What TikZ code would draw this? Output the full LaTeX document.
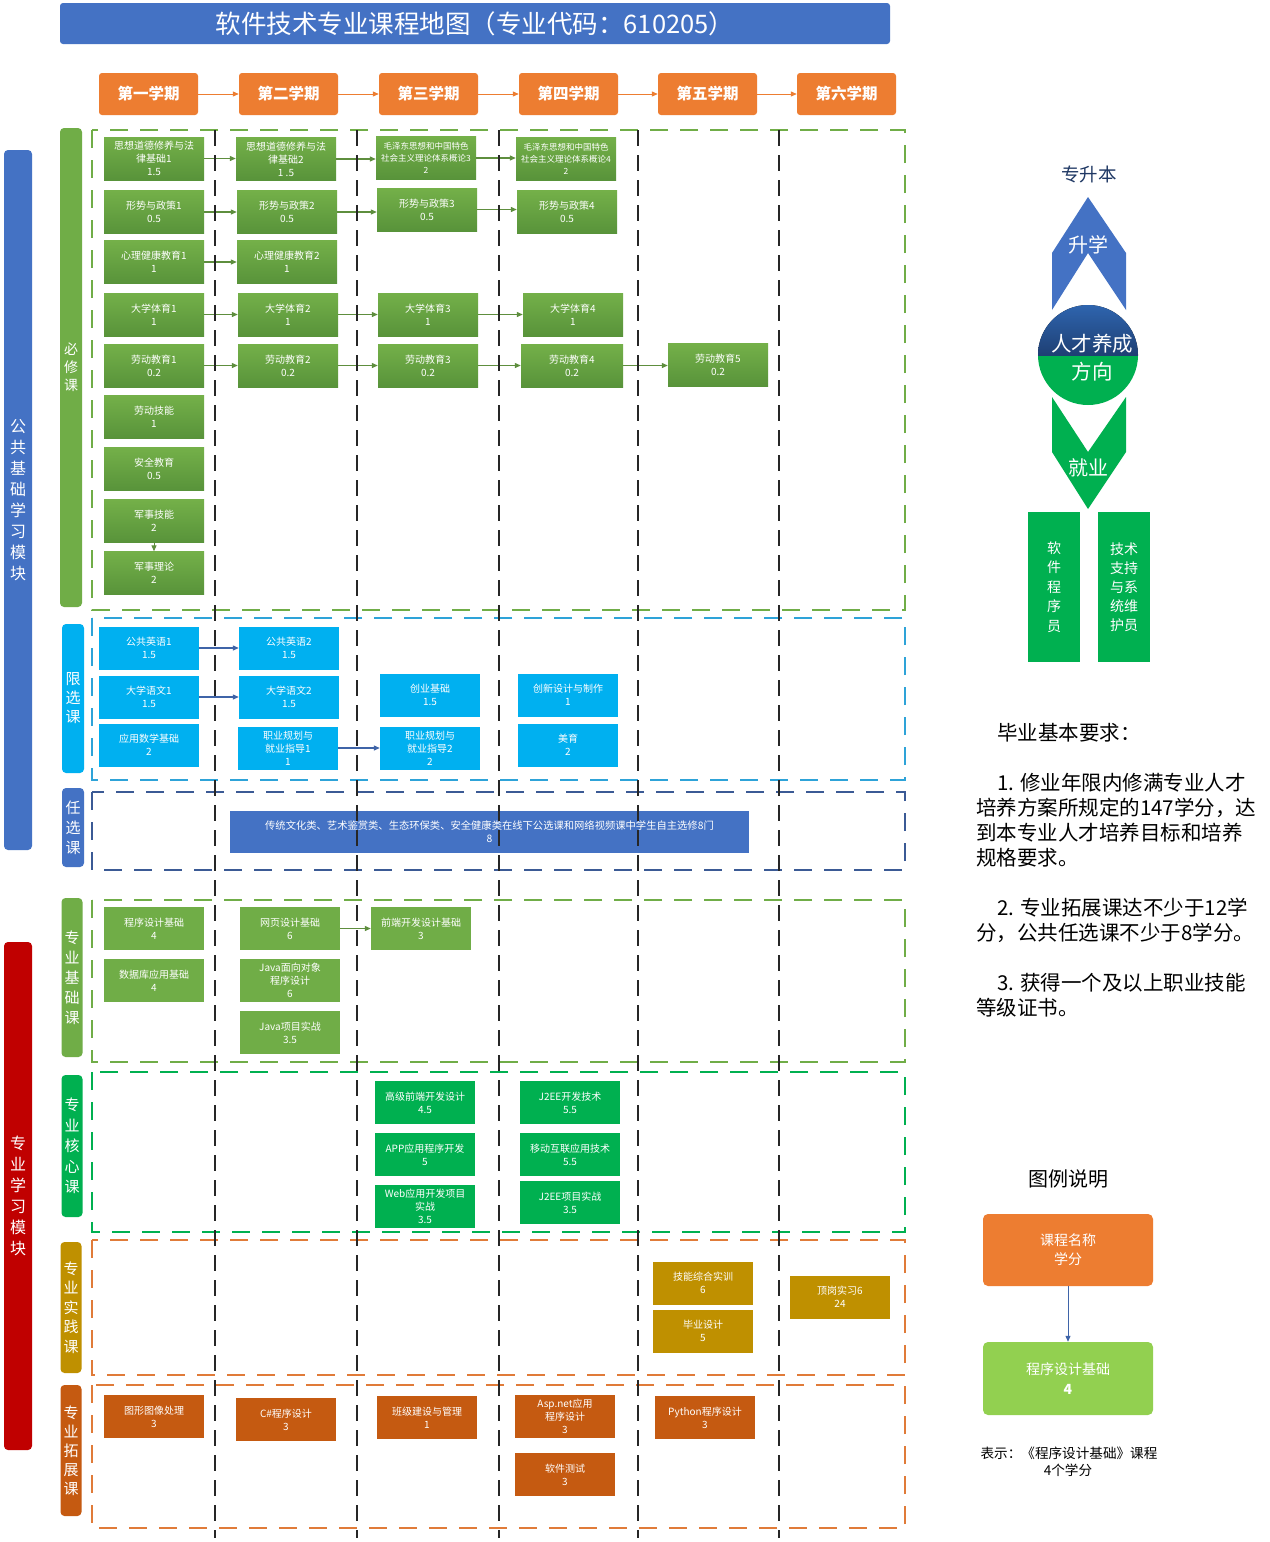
\documentclass[tikz,border=0pt]{standalone}
\usepackage{fontspec}
\setmainfont{Noto Sans CJK SC}
\usetikzlibrary{arrows.meta}
\definecolor{tblue}{HTML}{4472C4}
\definecolor{sorange}{HTML}{ED7D31}
\definecolor{ga}{HTML}{74B049}
\definecolor{gb}{HTML}{58933A}
\definecolor{garrow}{HTML}{5E8E3E}
\definecolor{cy}{HTML}{00B0F0}
\definecolor{cyframe}{HTML}{2EA3D8}
\definecolor{dbframe}{HTML}{3B5A95}
\definecolor{barrow}{HTML}{3F64A8}
\definecolor{pgreen}{HTML}{70AD47}
\definecolor{hgreen}{HTML}{00B050}
\definecolor{gold}{HTML}{BF9000}
\definecolor{rust}{HTML}{C55A11}
\definecolor{oframe}{HTML}{E07B39}
\definecolor{mred}{HTML}{C00000}
\definecolor{lgreen}{HTML}{92D050}
\definecolor{navy}{HTML}{1F3864}
\definecolor{cblue1}{HTML}{3068B4}
\definecolor{cblue2}{HTML}{1E3F73}
\definecolor{vl}{HTML}{262626}
\begin{document}
\begin{tikzpicture}[x=1pt,y=-1pt,
  crs/.style={rectangle, minimum width=100pt, minimum height=43pt, inner sep=0pt,
    align=center, text=white, font=\fontsize{10}{13}\selectfont},
  gcrs/.style={crs, top color=ga, bottom color=gb},
  ccrs/.style={crs, fill=cy},
  jcrs/.style={crs, fill=pgreen},
  hcrs/.style={crs, fill=hgreen},
  pcrs/.style={crs, fill=gold},
  tcrs/.style={crs, fill=rust},
  sem/.style={rectangle, rounded corners=3pt, fill=sorange, minimum width=99pt, minimum height=42pt,
    text=white, font=\fontsize{15.5}{18}\selectfont\bfseries},
  oarr/.style={draw=sorange, line width=1pt, -{Triangle[length=6pt,width=5pt]}},
  garr/.style={draw=garrow, line width=1.2pt, -{Triangle[length=6pt,width=5pt]}},
  barr/.style={draw=barrow, line width=1.2pt, -{Triangle[length=6pt,width=5pt]}},
  frame/.style={line width=1.8pt, dash pattern=on 18pt off 12pt},
  vline/.style={draw=vl, line width=1.3pt, dash pattern=on 16pt off 9pt},
  vbar/.style={rectangle, rounded corners=4pt, inner sep=0pt, text=white, align=center},
]
\useasboundingbox (0,0) rectangle (1269,1542);
\fill[white] (0,0) rectangle (1269,1542);

% title
\node[fill=tblue, rounded corners=3pt, minimum width=830pt, minimum height=41pt, text=white,
  font=\fontsize{25.5}{28}\selectfont] (title) at (475,23.5) {软件技术专业课程地图（专业代码：610205）};

% semesters
\node[sem] (s1) at (148.5,94) {第一学期};
\node[sem] (s2) at (288.5,94) {第二学期};
\node[sem] (s3) at (428.5,94) {第三学期};
\node[sem] (s4) at (568.5,94) {第四学期};
\node[sem] (s5) at (707.5,94) {第五学期};
\node[sem] (s6) at (846.5,94) {第六学期};
\draw[oarr] (s1) -- (s2);
\draw[oarr] (s2) -- (s3);
\draw[oarr] (s3) -- (s4);
\draw[oarr] (s4) -- (s5);
\draw[oarr] (s5) -- (s6);

% frames
\draw[frame, draw=pgreen] (92,130) rectangle (905,610);
\draw[frame, draw=cyframe] (92,618) rectangle (905,780);
\draw[frame, draw=dbframe] (92,792) rectangle (905,870);
\draw[frame, draw=pgreen] (92,900) rectangle (905,1062);
\draw[frame, draw=hgreen] (92,1072) rectangle (905,1232);
\draw[frame, draw=oframe] (92,1240) rectangle (905,1375);
\draw[frame, draw=oframe] (92,1385) rectangle (905,1528);

% module bars
\node[vbar, fill=tblue, minimum width=28pt, minimum height=700pt, font=\fontsize{16}{21}\selectfont] (m1) at (18,500)
  {公\\共\\基\\础\\学\\习\\模\\块};
\node[vbar, fill=mred, minimum width=28pt, minimum height=508pt, font=\fontsize{16}{21}\selectfont] (m2) at (18,1196)
  {专\\业\\学\\习\\模\\块};
\node[vbar, fill=pgreen, minimum width=22pt, minimum height=479pt, font=\fontsize{14}{18}\selectfont] (c1) at (71,367.5)
  {必\\修\\课};
\node[vbar, fill=cy, minimum width=22pt, minimum height=149pt, font=\fontsize{15}{19}\selectfont] (c2) at (73,698.5)
  {限\\选\\课};
\node[vbar, fill=tblue, minimum width=22pt, minimum height=79pt, font=\fontsize{15}{20}\selectfont] (c3) at (73,827.5)
  {任\\选\\课};
\node[vbar, fill=pgreen, minimum width=21pt, minimum height=159pt, font=\fontsize{15}{20}\selectfont] (c4) at (72,977.5)
  {专\\业\\基\\础\\课};
\node[vbar, fill=hgreen, minimum width=21pt, minimum height=142pt, font=\fontsize{15}{20.5}\selectfont] (c5) at (72,1146)
  {专\\业\\核\\心\\课};
\node[vbar, fill=gold, minimum width=21pt, minimum height=131pt, font=\fontsize{15}{19.5}\selectfont] (c6) at (71,1307.5)
  {专\\业\\实\\践\\课};
\node[vbar, fill=rust, minimum width=21pt, minimum height=131pt, font=\fontsize{15}{19}\selectfont] (c7) at (71,1450.5)
  {专\\业\\拓\\展\\课};

% 必修课
\node[gcrs] (b1a) at (154,158.5) {思想道德修养与法\\律基础1\\1.5};
\node[gcrs] (b1b) at (286,159) {思想道德修养与法\\律基础2\\1 .5};
\node[gcrs, font=\fontsize{8.5}{12}\selectfont] (b1c) at (426,158) {毛泽东思想和中国特色\\社会主义理论体系概论3\\2};
\node[gcrs, font=\fontsize{8.5}{12}\selectfont] (b1d) at (566,158.5) {毛泽东思想和中国特色\\社会主义理论体系概论4\\2};
\node[gcrs] (b2a) at (154,212) {形势与政策1\\0.5};
\node[gcrs] (b2b) at (287,212) {形势与政策2\\0.5};
\node[gcrs] (b2c) at (427,209.5) {形势与政策3\\0.5};
\node[gcrs] (b2d) at (567,212) {形势与政策4\\0.5};
\node[gcrs] (b3a) at (154,262) {心理健康教育1\\1};
\node[gcrs] (b3b) at (287,262) {心理健康教育2\\1};
\node[gcrs] (b4a) at (154,314.5) {大学体育1\\1};
\node[gcrs] (b4b) at (288,314.5) {大学体育2\\1};
\node[gcrs] (b4c) at (428,314.5) {大学体育3\\1};
\node[gcrs] (b4d) at (573,314.5) {大学体育4\\1};
\node[gcrs] (b5a) at (154,365.5) {劳动教育1\\0.2};
\node[gcrs] (b5b) at (288,365.5) {劳动教育2\\0.2};
\node[gcrs] (b5c) at (428,365.5) {劳动教育3\\0.2};
\node[gcrs, minimum width=102pt] (b5d) at (572,365.5) {劳动教育4\\0.2};
\node[gcrs] (b5e) at (718,365) {劳动教育5\\0.2};
\node[gcrs] (b6) at (154,417) {劳动技能\\1};
\node[gcrs] (b7) at (154,469) {安全教育\\0.5};
\node[gcrs] (b8) at (154,521) {军事技能\\2};
\node[gcrs] (b9) at (154,573) {军事理论\\2};
\draw[garr] (b1a.east) -- (b1a.east -| b1b.west);
\draw[garr] (b1b.east) -- (b1b.east -| b1c.west);
\draw[garr] (b1c.east) -- (b1c.east -| b1d.west);
\draw[garr] (b2a.east) -- (b2a.east -| b2b.west);
\draw[garr] (b2b.east) -- (b2b.east -| b2c.west);
\draw[garr] (b2c.east) -- (b2c.east -| b2d.west);
\draw[garr] (b3a.east) -- (b3a.east -| b3b.west);
\draw[garr] (b4a.east) -- (b4a.east -| b4b.west);
\draw[garr] (b4b.east) -- (b4b.east -| b4c.west);
\draw[garr] (b4c.east) -- (b4c.east -| b4d.west);
\draw[garr] (b5a.east) -- (b5a.east -| b5b.west);
\draw[garr] (b5b.east) -- (b5b.east -| b5c.west);
\draw[garr] (b5c.east) -- (b5c.east -| b5d.west);
\draw[garr] (b5d.east) -- (b5d.east -| b5e.west);
\draw[garr, line width=1pt] (b8) -- (b9);

% 限选课
\node[ccrs] (x1a) at (149,648) {公共英语1\\1.5};
\node[ccrs] (x1b) at (289,648) {公共英语2\\1.5};
\node[ccrs] (x2a) at (149,697) {大学语文1\\1.5};
\node[ccrs] (x2b) at (289,697) {大学语文2\\1.5};
\node[ccrs] (x3a) at (149,745) {应用数学基础\\2};
\node[ccrs] (x3b) at (288,748) {职业规划与\\就业指导1\\1};
\node[ccrs] (x2c) at (430,695) {创业基础\\1.5};
\node[ccrs] (x3c) at (430,748) {职业规划与\\就业指导2\\2};
\node[ccrs] (x2d) at (568,695) {创新设计与制作\\1};
\node[ccrs] (x3d) at (568,745) {美育\\2};
\draw[barr] (x1a.east) -- (x1a.east -| x1b.west);
\draw[barr] (x2a.east) -- (x2a.east -| x2b.west);
\draw[barr] (x3b.east) -- (x3b.east -| x3c.west);

% 任选课
\node[crs, fill=tblue, minimum width=519pt, minimum height=42pt, font=\fontsize{10.3}{13}\selectfont] (r1) at (489.5,832)
  {传统文化类、艺术鉴赏类、生态环保类、安全健康类在线下公选课和网络视频课中学生自主选修8门\\8};

% 专业基础课
\node[jcrs] (j1) at (154,928.5) {程序设计基础\\4};
\node[jcrs] (j2) at (154,980.5) {数据库应用基础\\4};
\node[jcrs] (j3) at (290,928.5) {网页设计基础\\6};
\node[jcrs] (j4) at (290,980.5) {Java面向对象\\程序设计\\6};
\node[jcrs] (j5) at (290,1032.5) {Java项目实战\\3.5};
\node[jcrs] (j6) at (421,928.5) {前端开发设计基础\\3};
\draw[garr] (j3.east) -- (j3.east -| j6.west);

% 专业核心课
\node[hcrs] (h1) at (425,1102.5) {高级前端开发设计\\4.5};
\node[hcrs] (h2) at (425,1154.5) {APP应用程序开发\\5};
\node[hcrs] (h3) at (425,1206) {Web应用开发项目\\实战\\3.5};
\node[hcrs] (h4) at (570,1102.5) {J2EE开发技术\\5.5};
\node[hcrs] (h5) at (570,1154.5) {移动互联应用技术\\5.5};
\node[hcrs] (h6) at (570,1202.5) {J2EE项目实战\\3.5};

% 专业实践课
\node[pcrs] (p1) at (703,1283) {技能综合实训\\6};
\node[pcrs] (p2) at (703,1331) {毕业设计\\5};
\node[pcrs] (p3) at (840,1297) {顶岗实习6\\24};

% 专业拓展课
\node[tcrs] (t1) at (154,1416.5) {图形图像处理\\3};
\node[tcrs] (t2) at (286,1419.5) {C\#程序设计\\3};
\node[tcrs] (t3) at (427,1417.5) {班级建设与管理\\1};
\node[tcrs] (t4) at (565,1416.5) {Asp.net应用\\程序设计\\3};
\node[tcrs] (t5) at (565,1474.5) {软件测试\\3};
\node[tcrs] (t6) at (705,1417.5) {Python程序设计\\3};

% semester separators
\foreach \xx in {215,357,499,638,779} \draw[vline] (\xx,130) -- (\xx,1538);

% right: direction
\node[text=navy, font=\fontsize{18.5}{22}\selectfont] (zsb) at (1089,174) {专升本};
\fill[tblue] (1088,197) -- (1126,253) -- (1126,310) -- (1088,253) -- (1052,310) -- (1052,253) -- cycle;
\node[text=white, font=\fontsize{20}{24}\selectfont] (sx) at (1088,245) {升学};
\begin{scope}
  \clip (1088,355) circle (50pt);
  \fill[top color=cblue1, bottom color=cblue2] (1030,300) rectangle (1146,356);
  \fill[hgreen] (1030,356) rectangle (1146,410);
\end{scope}
\node[text=white, font=\fontsize{20.5}{24}\selectfont] (rc1) at (1092,344) {人才养成};
\node[text=white, font=\fontsize{20.5}{24}\selectfont] (rc2) at (1092,372) {方向};
\fill[hgreen] (1052,397) -- (1088,452) -- (1126,397) -- (1126,452) -- (1088,509) -- (1052,452) -- cycle;
\node[text=white, font=\fontsize{20}{24}\selectfont] (jy) at (1088,468) {就业};
\node[rectangle, fill=hgreen, minimum width=52pt, minimum height=150pt, inner sep=0pt, text=white, align=center,
  font=\fontsize{14}{19.5}\selectfont] (job1) at (1054,587) {软\\件\\程\\序\\员};
\node[rectangle, fill=hgreen, minimum width=52pt, minimum height=150pt, inner sep=0pt, text=white, align=center,
  font=\fontsize{14}{19}\selectfont] (job2) at (1124,587) {技术\\支持\\与系\\统维\\护员};

% graduation requirements
\begin{scope}[every node/.style={anchor=west, inner sep=0pt, font=\fontsize{20.5}{24}\selectfont}]
\node (q0) at (997,733) {毕业基本要求：};
\node (q1) at (997,783) {1. 修业年限内修满专业人才};
\node (q2) at (976,808) {培养方案所规定的147学分，达};
\node (q3) at (976,833) {到本专业人才培养目标和培养};
\node (q4) at (976,858) {规格要求。};
\node (q5) at (997,908) {2. 专业拓展课达不少于12学};
\node (q6) at (976,933) {分，公共任选课不少于8学分。};
\node (q7) at (997,983) {3. 获得一个及以上职业技能};
\node (q8) at (976,1008) {等级证书。};
\end{scope}

% legend
\node[font=\fontsize{20}{24}\selectfont] (lgt) at (1068,1179) {图例说明};
\node[rectangle, rounded corners=5pt, fill=sorange, minimum width=170pt, minimum height=72pt, inner sep=0pt,
  align=center, text=white, font=\fontsize{14}{19}\selectfont] (lg1) at (1068,1250) {课程名称\\学分};
\node[rectangle, rounded corners=5pt, fill=lgreen, minimum width=170pt, minimum height=73pt, inner sep=0pt,
  align=center, text=white, font=\fontsize{14}{20}\selectfont] (lg2) at (1068,1378.5) {程序设计基础\\\textbf{4}};
\draw[draw=barrow, line width=1pt, -{Triangle[length=6pt,width=5pt]}] (lg1) -- (lg2);
\node[font=\fontsize{13.6}{16}\selectfont] (lgx1) at (1069,1453) {表示：《程序设计基础》课程};
\node[font=\fontsize{13.6}{16}\selectfont] (lgx2) at (1068,1470) {4个学分};
\end{tikzpicture}
\end{document}
